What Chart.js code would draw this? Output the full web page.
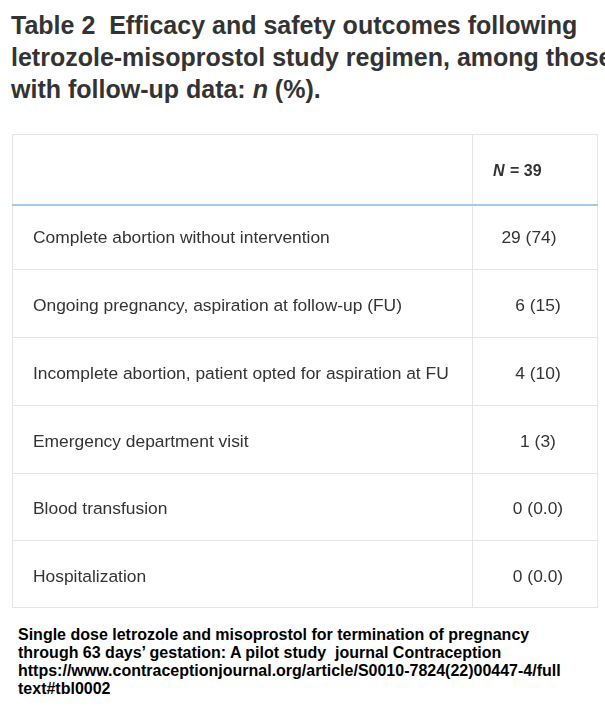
<!DOCTYPE html>
<html>
<head>
<meta charset="utf-8">
<script src="https://cdn.jsdelivr.net/npm/chart.js@4/dist/chart.umd.min.js"></script>
<style>
  body { margin: 0; width: 605px; height: 717px; background: #fff; overflow: hidden; position: relative; font-family: "Liberation Sans", Arial, sans-serif; }
  #title { position: absolute; left: 11px; top: 9px; width: 700px; font-size: 25px; font-weight: bold; color: #333; line-height: 32px; white-space: nowrap; }
  #wrap { position: absolute; left: 12px; top: 134px; width: 586px; height: 474px; }
  #cap { position: absolute; left: 18px; top: 626px; font-size: 16px; font-weight: bold; color: #000; line-height: 18px; white-space: nowrap; }
</style>
</head>
<body>
<div id="title">Table 2&nbsp; Efficacy and safety outcomes following<br>letrozole-misoprostol study regimen, among those<br>with follow-up data: <i>n</i> (%).</div>
<div id="wrap"><canvas id="myChart"></canvas></div>
<div id="cap">Single dose letrozole and misoprostol for termination of pregnancy<br>through 63 days’ gestation: A pilot study&nbsp; journal Contraception<br>https://www.contraceptionjournal.org/article/S0010-7824(22)00447-4/full<br>text#tbl0002</div>
<script>
// Table content
const outcomes = ['', 'Complete abortion without intervention', 'Ongoing pregnancy, aspiration at follow-up (FU)',
  'Incomplete abortion, patient opted for aspiration at FU', 'Emergency department visit', 'Blood transfusion', 'Hospitalization'];
const counts = [null, 29, 6, 4, 1, 0, 0];
const percents = ['', '74', '15', '10', '3', '0.0', '0.0'];
const totalN = 39;

// Draws the table cells on top of the category scale
const tablePlugin = {
  id: 'table',
  afterDraw(chart) {
    const c = chart.ctx, y = chart.scales.y, a = chart.chartArea;
    const divX = 460, valX = 520;
    c.save();
    c.strokeStyle = '#e5e5e5';
    c.lineWidth = 1;
    c.strokeRect(a.left + 0.5, a.top + 0.5, a.width - 1, a.height - 1);
    c.beginPath();
    c.moveTo(divX + 0.5, a.top); c.lineTo(divX + 0.5, a.bottom);
    for (let i = 1; i < outcomes.length - 1; i++) {
      const yy = Math.round((y.getPixelForValue(i) + y.getPixelForValue(i + 1)) / 2) + 0.5;
      c.moveTo(a.left, yy); c.lineTo(a.right, yy);
    }
    c.stroke();
    const hy = Math.round((y.getPixelForValue(0) + y.getPixelForValue(1)) / 2) + 3;
    c.fillStyle = '#a9c9ea';
    c.fillRect(a.left, hy - 1, a.width, 2);
    c.textBaseline = 'middle';
    c.fillStyle = '#333';
    c.font = 'bold italic 16px "Liberation Sans", Arial';
    c.textAlign = 'left';
    const hx = 481, hyT = y.getPixelForValue(0) + 4;
    c.fillText('N', hx, hyT);
    c.font = 'bold 16px "Liberation Sans", Arial';
    c.fillText(' = ' + totalN, hx + c.measureText('N').width + 1, hyT);
    c.font = '17.4px "Liberation Sans", Arial';
    for (let i = 1; i < outcomes.length; i++) {
      const py = y.getPixelForValue(i) + 3;
      c.textAlign = 'left';
      c.fillText(outcomes[i], 21, py);
      c.textAlign = 'center';
      c.fillText(counts[i] + ' (' + percents[i] + ')', valX + (counts[i] >= 10 ? -3 : 6), py);
    }
    c.restore();
  }
};

const ctx = document.getElementById('myChart').getContext('2d');
new Chart(ctx, {
  type: 'bar',
  data: {
    labels: outcomes,
    datasets: [{ data: counts, backgroundColor: 'rgba(0,0,0,0)' }]
  },
  options: {
    indexAxis: 'y',
    responsive: true,
    maintainAspectRatio: false,
    animation: false,
    layout: { padding: 0 },
    plugins: { legend: { display: false }, tooltip: { enabled: false } },
    scales: {
      y: { display: false, offset: true },
      x: { display: false, min: 0, max: 40 }
    }
  },
  plugins: [tablePlugin]
});
</script>
</body>
</html>
